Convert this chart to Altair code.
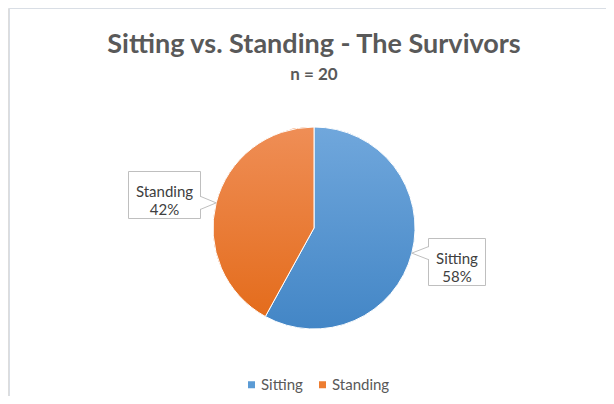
import math
import altair as alt
import pandas as pd

# ---------------- data ----------------
categories = ["Sitting", "Standing"]
percent = [58, 42]
percent_labels = ["58%", "42%"]
title_text = ["Sitting vs. Standing - The Survivors"]
subtitle_text = ["n = 20"]

# ---------------- style / layout ----------------
FONT = "Lato"
W, H = 598, 388
CX, CY, R = 306, 220, 101
legend_colors = ["#5B9BD5", "#ED7D31"]
grad_top = {"Sitting": "#70A7DC", "Standing": "#EF8E56"}
grad_bottom = {"Sitting": "#4386C6", "Standing": "#E46C1C"}
box_width = {"Sitting": 57, "Standing": 72}
BOX_H = 47
BOX_GAP = 114
TXT = "#404040"

df = pd.DataFrame({"cat": categories, "value": percent, "order": list(range(len(categories))),
                   "pct": percent_labels})


def grad(top, bottom):
    return alt.Gradient(
        gradient="linear",
        stops=[alt.GradientStop(color=top, offset=0), alt.GradientStop(color=bottom, offset=1)],
        x1=0, x2=0, y1=0, y2=1,
    )


theta = alt.Theta("value:Q", stack=True)
order = alt.Order("order:Q")

base = alt.Chart(df).mark_arc(radius=R).encode(
    theta=theta,
    order=order,
    color=alt.Color(
        "cat:N",
        scale=alt.Scale(domain=categories, range=legend_colors),
        legend=alt.Legend(
            orient="none", legendX=236, legendY=369, direction="horizontal", title=None,
            symbolType="square", symbolSize=49, symbolStrokeWidth=0,
            labelFont=FONT, labelFontSize=15, labelColor="#595959", labelOffset=2,
            columnPadding=12, padding=0,
        ),
    ),
    x=alt.value(CX), y=alt.value(CY),
)

slices = alt.Chart(df).mark_arc(radius=R, stroke="white", strokeWidth=1).encode(
    theta=theta,
    order=order,
    detail="cat:N",
    fill=alt.condition(
        alt.datum.cat == categories[0],
        alt.value(grad(grad_top[categories[0]], grad_bottom[categories[0]])),
        alt.value(grad(grad_top[categories[1]], grad_bottom[categories[1]])),
    ),
    x=alt.value(CX), y=alt.value(CY),
)

# ---------------- callout geometry derived from the data ----------------
total = sum(percent)
rows, tail_rows = [], []
cum = 0
for cat, v, lab in zip(categories, percent, percent_labels):
    mid = (cum + v / 2) / total
    cum += v
    a = 2 * math.pi * mid
    dx, dy = math.sin(a), -math.cos(a)
    tx, ty = CX + R * dx, CY + R * dy
    side = 1 if dx > 0 else -1
    inner = CX + side * BOX_GAP
    bw = box_width[cat]
    x1 = inner if side > 0 else inner - bw
    bcy = ty + 8 * (1 if dy > 0 else -1)
    y1 = round(bcy - BOX_H / 2) + 0.5
    rows.append(dict(cat=cat, pct=lab, x1=round(x1) + 0.5, x2=round(x1) + bw + 0.5,
                     y1=y1, y2=y1 + BOX_H, xc=round(x1) + bw / 2 + 0.5,
                     ty1=y1 + 20, ty2=y1 + 38.5,
                     inner=round(inner) + 0.5, ra=ty - 6, rb=ty + 6))
    tail_rows += [
        dict(cat=cat, k=0, x=round(inner) + 0.5, y=ty - 6.5),
        dict(cat=cat, k=1, x=tx, y=ty),
        dict(cat=cat, k=2, x=round(inner) + 0.5, y=ty + 6.5),
    ]
ann = pd.DataFrame(rows)
tails = pd.DataFrame(tail_rows)
px = lambda f: alt.X(f, type="quantitative", scale=None)
py = lambda f: alt.Y(f, type="quantitative", scale=None)

boxes = alt.Chart(ann).mark_rect(fill="white", stroke="#BFBFBF", strokeWidth=1).encode(
    x=px("x1"), x2="x2", y=py("y1"), y2="y2")
gap = alt.Chart(ann).mark_rule(stroke="white", strokeWidth=2).encode(
    x=px("inner"), y=py("ra"), y2="rb")
tail = alt.Chart(tails).mark_line(stroke="#BFBFBF", strokeWidth=1).encode(
    x=px("x"), y=py("y"), detail="cat:N", order="k:Q")
lab1 = alt.Chart(ann).mark_text(font=FONT, fontSize=15, color=TXT, align="center").encode(
    x=px("xc"), y=py("ty1"), text="cat:N")
lab2 = alt.Chart(ann).mark_text(font=FONT, fontSize=15, color=TXT, align="center").encode(
    x=px("xc"), y=py("ty2"), text="pct:N")

title = alt.Chart(pd.DataFrame({"t": title_text})).mark_text(
    font=FONT, fontSize=27, fontWeight="bold", color="#595959", align="center", baseline="alphabetic"
).encode(x=alt.value(306), y=alt.value(45), text="t:N")
subtitle = alt.Chart(pd.DataFrame({"t": subtitle_text})).mark_text(
    font=FONT, fontSize=17, fontWeight="bold", color="#595959", align="center", baseline="alphabetic"
).encode(x=alt.value(306), y=alt.value(72), text="t:N")

frame_top = alt.Chart(pd.DataFrame({"a": [0]})).mark_rule(stroke="#D9DEE5", strokeWidth=1).encode(
    x=alt.value(1), x2=alt.value(W), y=alt.value(0.5))
frame_left = alt.Chart(pd.DataFrame({"a": [0]})).mark_rule(stroke="#D9DEE5", strokeWidth=1).encode(
    x=alt.value(1.5), y=alt.value(0), y2=alt.value(H))

chart = alt.layer(
    frame_top, frame_left, base, slices, boxes, gap, tail, lab1, lab2, title, subtitle
).properties(
    width=W, height=H, padding=0, autosize=alt.AutoSizeParams(type="none"),
).configure_view(stroke=None).configure(background="white")

chart.save("out.html", embed_options={"renderer": "svg", "actions": False})
